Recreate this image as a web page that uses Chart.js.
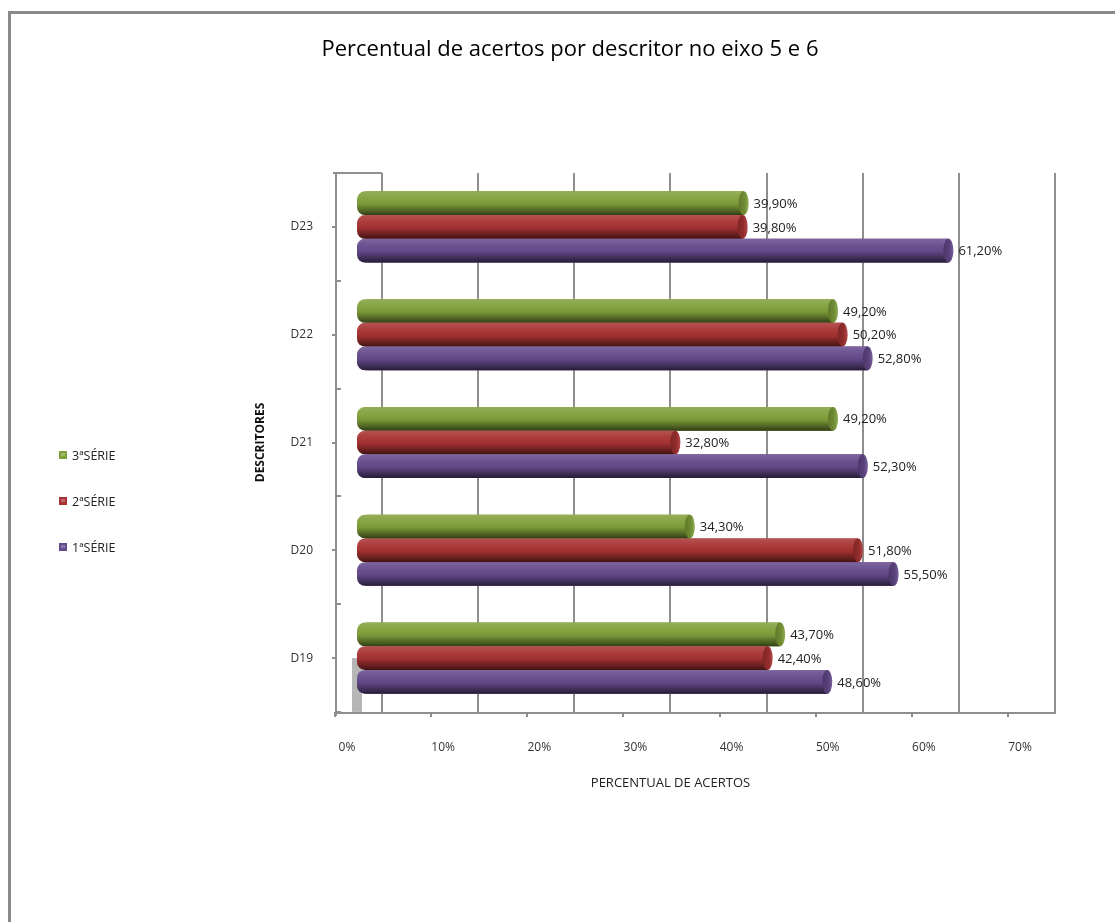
<!DOCTYPE html>
<html>
<head>
<meta charset="utf-8">
<title>Percentual de acertos por descritor no eixo 5 e 6</title>
<script src="https://cdn.jsdelivr.net/npm/chart.js@4.4.1/dist/chart.umd.min.js"></script>
<style>
  html, body { margin: 0; padding: 0; background: #fff; overflow: hidden; }
  #wrap { position: relative; width: 1115px; height: 922px; }
  #frame { position: absolute; left: 8px; top: 11px; right: -20px; bottom: -20px;
           border-left: 3px solid #8a8a8a; border-top: 3px solid #8a8a8a; }
  #c { position: absolute; left: 0; top: 0; }
</style>
</head>
<body>
<div id="wrap">
  <div id="frame"></div>
  <canvas id="c" width="1115" height="922"></canvas>
</div>
<script>
// Descritores (top to bottom) and the hit rate (%) for each school year
const descritores = ['D23', 'D22', 'D21', 'D20', 'D19'];
const serie3 = [39.9, 49.2, 49.2, 34.3, 43.7];
const serie2 = [39.8, 50.2, 32.8, 51.8, 42.4];
const serie1 = [61.2, 52.8, 52.3, 55.5, 48.6];
const seriesNames = ['3ªSÉRIE', '2ªSÉRIE', '1ªSÉRIE'];
const percentTicks = [0, 10, 20, 30, 40, 50, 60, 70];

const FONT = "'Open Sans', 'Liberation Sans', sans-serif";
Chart.defaults.font.family = FONT;

// cylinder colours: body colour for each series
const seriesColors = ['#80A03A', '#A83232', '#654A8C'];

const WALL_DEPTH = 22;   // back wall is drawn shifted right of the bar plane
const FRONT_SHIFT = 24;  // front edge of the side wall / floor

function line(ctx, x1, y1, x2, y2) {
  ctx.beginPath(); ctx.moveTo(x1, y1); ctx.lineTo(x2, y2); ctx.stroke();
}

// walls, gridlines and axis lines in a pseudo 3-D frame
const wallPlugin = {
  id: 'wall',
  beforeDatasetsDraw(chart) {
    const { ctx, chartArea: a } = chart;
    const xs = chart.scales.x, ys = chart.scales.y;
    const n = descritores.length;
    ctx.save();
    // shadow of the side wall below the lowest group
    ctx.fillStyle = '#b6b6b6';
    ctx.fillRect(Math.round(a.left) - 8, Math.round(ys.getPixelForValue(n - 1)), 10, a.bottom - ys.getPixelForValue(n - 1));
    ctx.strokeStyle = '#8e8e8e';
    ctx.lineWidth = 2;
    percentTicks.forEach(v => {
      const px = Math.round(xs.getPixelForValue(v)) + WALL_DEPTH;
      line(ctx, px, a.top, px, a.bottom);
    });
    const wallX = Math.round(a.left) - FRONT_SHIFT;
    line(ctx, wallX, a.top - 1, wallX, a.bottom + 4);
    line(ctx, wallX - 3, a.top, Math.round(a.left) + WALL_DEPTH, a.top);
    line(ctx, wallX - 1, a.bottom + 1, Math.round(xs.getPixelForValue(70)) + WALL_DEPTH + 1, a.bottom + 1);
    // tick marks on the floor edge
    percentTicks.forEach(v => {
      const px = Math.round(xs.getPixelForValue(v)) - FRONT_SHIFT - 1;
      line(ctx, px, a.bottom, px, a.bottom + 5);
    });
    // tick marks on the category axis
    for (let i = 0; i <= n; i++) {
      const yb = Math.round(a.top + i * a.height / n);
      line(ctx, wallX, yb, wallX + 5, yb);
    }
    descritores.forEach((d, i) => {
      const yc = Math.round(ys.getPixelForValue(i));
      line(ctx, wallX - 4, yc, wallX, yc);
    });
    ctx.restore();
  }
};

// cylinder shading, end caps and value labels
const cylinderPlugin = {
  id: 'cylinder',
  afterDatasetsDraw(chart) {
    const ctx = chart.ctx;
    chart.data.datasets.forEach((ds, di) => {
      const meta = chart.getDatasetMeta(di);
      meta.data.forEach((bar, i) => {
        const { x, y, base, height } = bar.getProps(['x', 'y', 'base', 'height'], true);
        const top = y - height / 2, bot = y + height / 2;
        const g = ctx.createLinearGradient(0, top, 0, bot);
        g.addColorStop(0, 'rgba(255,255,255,0.16)');
        g.addColorStop(0.3, 'rgba(255,255,255,0.04)');
        g.addColorStop(0.55, 'rgba(0,0,0,0.06)');
        g.addColorStop(0.85, 'rgba(0,0,0,0.42)');
        g.addColorStop(1, 'rgba(0,0,0,0.62)');
        ctx.save();
        ctx.beginPath();
        ctx.roundRect(base - 3, top, x - base + 3, height, [8, 0, 0, 8]);
        ctx.fillStyle = seriesColors[di];
        ctx.fill();
        ctx.fillStyle = g;
        ctx.fill();
        // end face of the cylinder
        ctx.beginPath();
        ctx.ellipse(x, y, 5, height / 2, 0, 0, Math.PI * 2);
        ctx.fillStyle = seriesColors[di];
        ctx.fill();
        const g2 = ctx.createLinearGradient(x - 5, 0, x + 5, 0);
        g2.addColorStop(0, 'rgba(0,0,0,0.25)');
        g2.addColorStop(0.6, 'rgba(0,0,0,0.12)');
        g2.addColorStop(1, 'rgba(255,255,255,0.12)');
        ctx.fillStyle = g2;
        ctx.fill();
        // value label
        const v = ds.data[i];
        ctx.fillStyle = '#222';
        ctx.font = '13px ' + FONT;
        ctx.textAlign = 'left';
        ctx.textBaseline = 'middle';
        ctx.fillText(v.toFixed(2).replace('.', ',') + '%', x + 10, y + 1);
        ctx.restore();
      });
    });
  }
};

// legend column at the left, and the horizontal axis title
const sidePlugin = {
  id: 'side',
  afterDraw(chart) {
    const { ctx, chartArea: a } = chart;
    ctx.save();
    chart.data.datasets.forEach((ds, i) => {
      const cy = 455 + i * 46;
      ctx.fillStyle = ds.backgroundColor;
      ctx.fillRect(59, cy - 4, 8, 8);
      ctx.fillStyle = 'rgba(255,255,255,0.25)';
      ctx.fillRect(61, cy - 2, 4, 3);
      ctx.fillStyle = '#222';
      ctx.font = '12.5px ' + FONT;
      ctx.textAlign = 'left';
      ctx.textBaseline = 'middle';
      ctx.fillText(ds.label, 72, cy + 1);
    });
    ctx.fillStyle = '#222';
    ctx.font = '13px ' + FONT;
    ctx.textAlign = 'center';
    ctx.textBaseline = 'middle';
    ctx.fillText('PERCENTUAL DE ACERTOS', (a.left + a.right) / 2 - 26, a.bottom + 71);
    ctx.restore();
  }
};

const seriesData = [serie3, serie2, serie1];

new Chart(document.getElementById('c'), {
  type: 'bar',
  data: {
    labels: descritores,
    datasets: seriesData.map((vals, i) => ({
      label: seriesNames[i],
      data: vals,
      backgroundColor: seriesColors[i],
      borderWidth: 0,
      borderSkipped: false,
      borderRadius: { topLeft: 8, bottomLeft: 8, topRight: 0, bottomRight: 0 },
      categoryPercentage: 0.66,
      barPercentage: 1.0
    }))
  },
  options: {
    indexAxis: 'y',
    responsive: false,
    animation: false,
    devicePixelRatio: 1,
    layout: { padding: { left: 107, right: 82, top: 0, bottom: 110 } },
    plugins: {
      legend: { display: false },
      tooltip: { enabled: false },
      title: {
        display: true,
        text: 'Percentual de acertos por descritor no eixo 5 e 6',
        color: '#000',
        font: { size: 22, weight: 'normal', family: FONT },
        padding: { top: 37, bottom: 109.6 }
      }
    },
    scales: {
      x: {
        type: 'linear',
        min: 0,
        max: 70,
        afterBuildTicks: s => { s.ticks = percentTicks.map(v => ({ value: v })); },
        afterFit: s => { s.height = 100; },
        ticks: {
          callback: v => v + '%',
          padding: 28,
          labelOffset: -13,
          color: '#333',
          font: { size: 12 }
        },
        grid: { display: false, drawTicks: false },
        border: { display: false }
      },
      y: {
        afterFit: s => { s.width = 253; },
        ticks: { padding: 47, color: '#333', font: { size: 12 } },
        grid: { display: false, drawTicks: false },
        border: { display: false },
        title: {
          display: true,
          text: 'DESCRITORES',
          color: '#111',
          font: { size: 12, weight: 'bold' },
          padding: { top: 146, bottom: 0 }
        }
      }
    }
  },
  plugins: [wallPlugin, cylinderPlugin, sidePlugin]
});
</script>
</body>
</html>
